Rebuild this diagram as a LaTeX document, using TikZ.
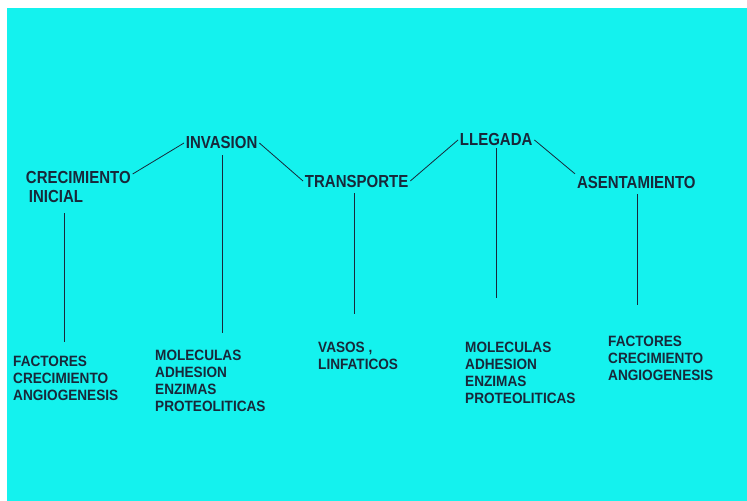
\documentclass[tikz,border=0pt]{standalone}
\usepackage{fontspec}
\newfontfamily\toplab[FakeStretch=0.86]{Liberation Sans}
\newfontfamily\botlab[FakeStretch=0.91]{Liberation Sans}
\definecolor{bgcyan}{RGB}{20,242,238}
\definecolor{ink}{RGB}{24,40,58}
\begin{document}
\begin{tikzpicture}[x=1bp,y=-1bp,
  head/.style={anchor=west,inner sep=0pt,outer sep=2pt,text=ink,font=\toplab\bfseries\fontsize{17.5}{19}\selectfont},
  headml/.style={head,align=left,font=\toplab\bfseries\fontsize{17.5}{21}\selectfont},
  foot/.style={anchor=north west,inner sep=0pt,text=ink,align=left,font=\botlab\bfseries\fontsize{15}{17}\selectfont},
  link/.style={draw=ink,line width=0.8pt}]
\useasboundingbox (0,0) rectangle (747,501);
\fill[bgcyan] (7,8) rectangle (747,501);
% top labels
\node[headml] (cre) at (24,187) {CRECIMIENTO\\[-1pt]\hspace*{3bp}INICIAL};
\node[head] (inv) at (184,143) {INVASION};
\node[head] (tra) at (303,181) {TRANSPORTE};
\node[head] (lle) at (458,140) {LLEGADA};
\node[head] (ase) at (575,182) {ASENTAMIENTO};
% bottom texts
\node[foot] (f1) at (13,356) {FACTORES\\CRECIMIENTO\\ANGIOGENESIS};
\node[foot] (f2) at (155,350) {MOLECULAS\\ADHESION\\ENZIMAS\\PROTEOLITICAS};
\node[foot] (f3) at (318,342) {VASOS ,\\LINFATICOS};
\node[foot] (f4) at (465,342) {MOLECULAS\\ADHESION\\ENZIMAS\\PROTEOLITICAS};
\node[foot] (f5) at (608,336) {FACTORES\\CRECIMIENTO\\ANGIOGENESIS};
% diagonal links
\draw[link] ([yshift=13bp]cre.east) -- (inv.west);
\draw[link] (inv.east) -- (tra.west);
\draw[link] (tra.east) -- (lle.west);
\draw[link] (lle.east) -- (ase.north west);
% vertical lines
\coordinate (b1) at (64,342);
\coordinate (b2) at (222,333);
\coordinate (b3) at (354,314);
\coordinate (b4) at (496,298);
\coordinate (b5) at (637,305);
\draw[link] (b1 |- cre.south) ++(0,8) -- (b1);
\draw[link] (b2 |- inv.south) ++(0,4) -- (b2);
\draw[link] (b3 |- tra.south) ++(0,4) -- (b3);
\draw[link] (b4 |- lle.south) -- (b4);
\draw[link] (b5 |- ase.south) ++(0,4) -- (b5);
\end{tikzpicture}
\end{document}
